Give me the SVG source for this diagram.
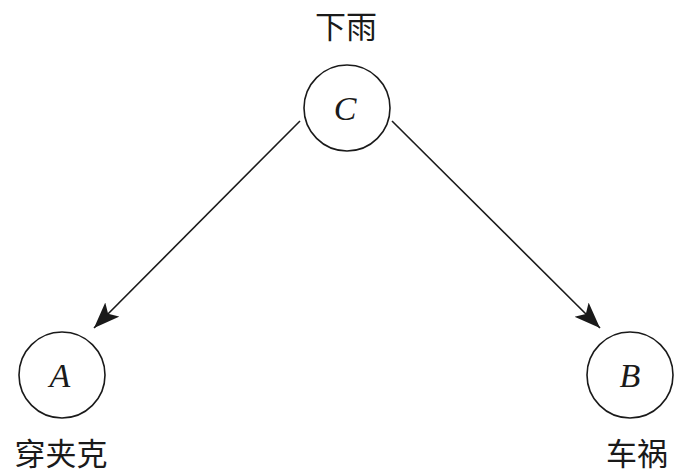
<svg xmlns="http://www.w3.org/2000/svg" width="680" height="474" viewBox="0 0 680 474">
<style>
.node circle{fill:#fff;stroke:#1a1a1a;stroke-width:1.6}
.var{font-family:"Liberation Serif",serif;font-style:italic;font-size:34px;fill:#1a1a1a;text-anchor:middle}
.lbl{font-family:"Noto Sans CJK SC","Noto Sans",sans-serif;font-size:31px;fill:#1a1a1a;text-anchor:middle}
.edge{stroke:#1a1a1a;stroke-width:1.6;fill:none;marker-end:url(#ah)}
</style>
<defs>
<marker id="ah" markerUnits="userSpaceOnUse" markerWidth="28" markerHeight="22" refX="26" refY="10" orient="auto">
<path d="M0,0 L26,10 L0,20 L6,10 Z" fill="#1a1a1a"/>
</marker>
</defs>
<g id="connectors">
<line class="edge" x1="300" y1="121" x2="94" y2="328"/>
<line class="edge" x1="392" y1="121" x2="600" y2="328"/>
</g>
<g id="node-C" class="node">
<circle cx="347" cy="108" r="43"/>
<text class="var" x="345" y="120">C</text>
<text class="lbl" x="346" y="38">下雨</text>
</g>
<g id="node-A" class="node">
<circle cx="62" cy="375" r="43"/>
<text class="var" x="60" y="387">A</text>
<text class="lbl" x="61" y="465">穿夹克</text>
</g>
<g id="node-B" class="node">
<circle cx="630" cy="375" r="43"/>
<text class="var" x="630" y="387">B</text>
<text class="lbl" x="637" y="465">车祸</text>
</g>
</svg>
